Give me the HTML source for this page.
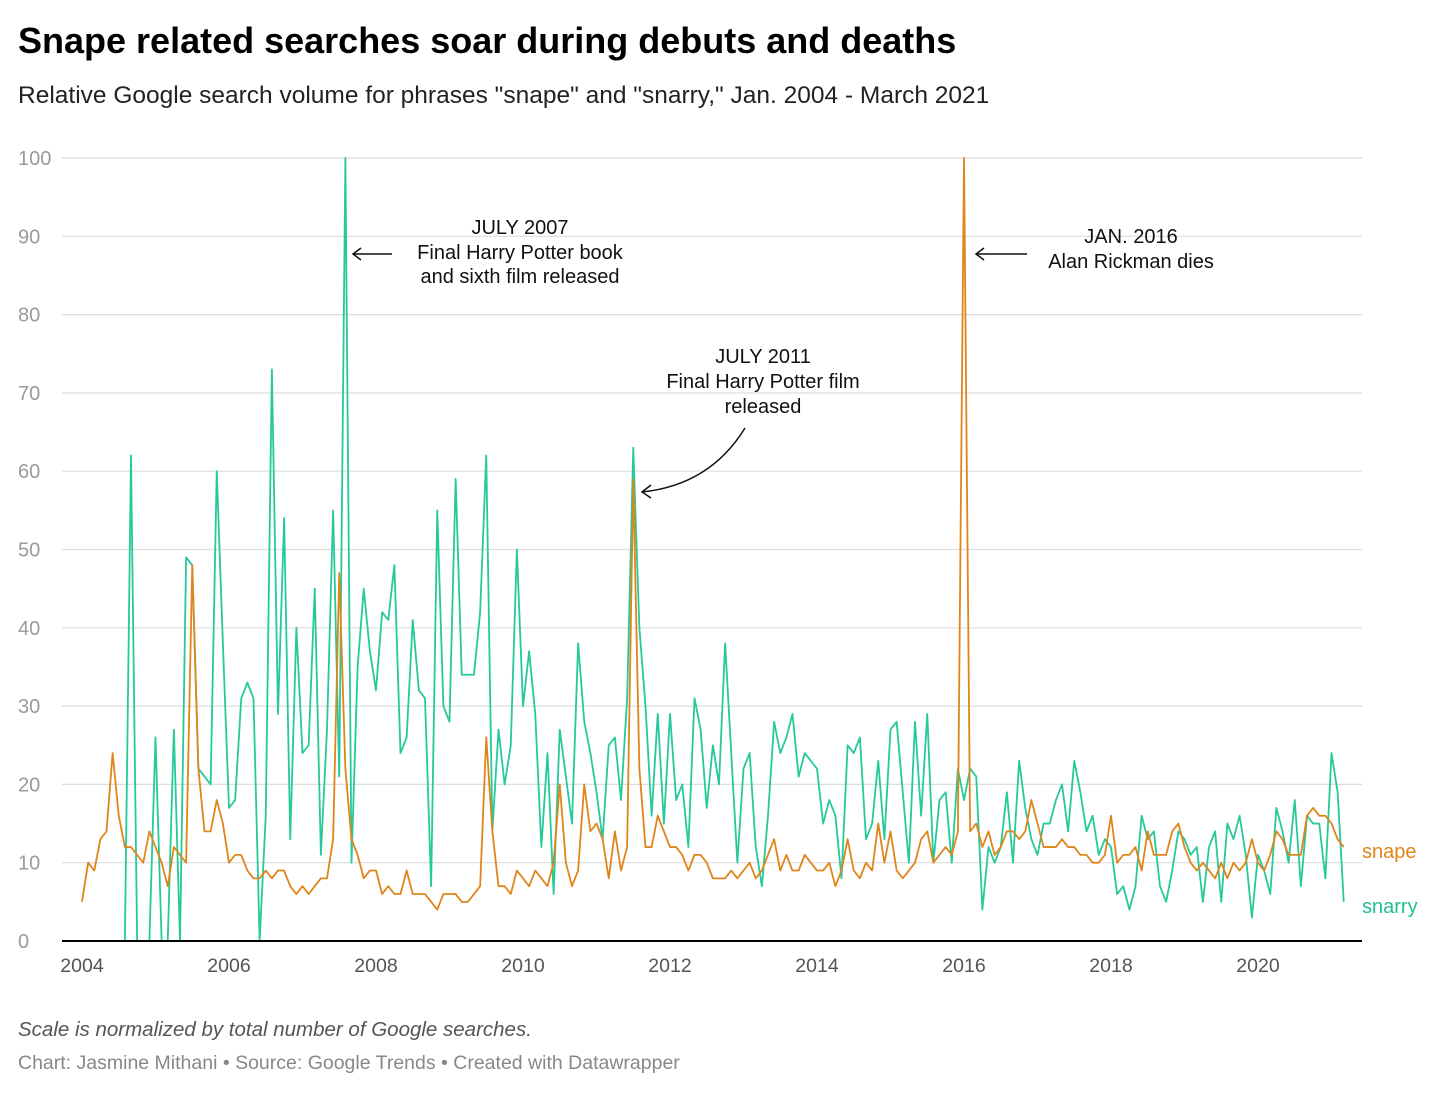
<!DOCTYPE html>
<html><head><meta charset="utf-8">
<style>
body{margin:0;background:#fff;width:1456px;height:1101px;overflow:hidden;font-family:"Liberation Sans",sans-serif;}
svg text{font-family:"Liberation Sans",sans-serif;}
</style></head>
<body>
<svg id="chart" width="1456" height="1101" xmlns="http://www.w3.org/2000/svg">
<text x="18" y="53" font-size="36" font-weight="bold" fill="#000">Snape related searches soar during debuts and deaths</text>
<text x="18" y="103" font-size="24.5" fill="#222">Relative Google search volume for phrases "snape" and "snarry," Jan. 2004 - March 2021</text>
<g id="grid"></g>
<g id="yticks"></g>
<g id="xticks"></g>
<g id="series"></g>
<g font-size="20" fill="#111" text-anchor="middle">
<text x="520" y="234">JULY 2007</text>
<text x="520" y="259">Final Harry Potter book</text>
<text x="520" y="283">and sixth film released</text>
<line x1="392" y1="254" x2="353" y2="254" stroke="#111" stroke-width="1.5"/>
<path d="M361,248 L353,254 L361,260" fill="none" stroke="#111" stroke-width="1.5"/>
</g>
<g font-size="20" fill="#111" text-anchor="middle">
<text x="763" y="363">JULY 2011</text>
<text x="763" y="388">Final Harry Potter film</text>
<text x="763" y="413">released</text>
<path d="M745,428 Q710,485 642,492" fill="none" stroke="#111" stroke-width="1.5"/>
<path d="M651,485 L642,492 L651,498" fill="none" stroke="#111" stroke-width="1.5"/>
</g>
<g font-size="20" fill="#111" text-anchor="middle">
<text x="1131" y="243">JAN. 2016</text>
<text x="1131" y="268">Alan Rickman dies</text>
<line x1="1027" y1="254" x2="976" y2="254" stroke="#111" stroke-width="1.5"/>
<path d="M984,248 L976,254 L984,260" fill="none" stroke="#111" stroke-width="1.5"/>
</g>
<text x="1362" y="858" font-size="20" fill="#e0851a">snape</text>
<text x="1362" y="913" font-size="20" fill="#1fbf92">snarry</text>
<text x="18" y="1036" font-size="20.5" font-style="italic" fill="#555">Scale is normalized by total number of Google searches.</text>
<text x="18" y="1069" font-size="19.5" fill="#888">Chart: Jasmine Mithani • Source: Google Trends • Created with Datawrapper</text>
</svg>
<script>
const yTicks=[0,10,20,30,40,50,60,70,80,90,100];
const xTickYears=[2004,2006,2008,2010,2012,2014,2016,2018,2020];
const snape=[5,10,9,13,14,24,16,12,12,11,10,14,
12,10,7,12,11,10,48,22,14,14,18,15,
10,11,11,9,8,8,9,8,9,9,7,6,
7,6,7,8,8,13,47,22,13,11,8,9,
9,6,7,6,6,9,6,6,6,5,4,6,
6,6,5,5,6,7,26,14,7,7,6,9,
8,7,9,8,7,10,20,10,7,9,20,14,
15,13,8,14,9,12,59,22,12,12,16,14,
12,12,11,9,11,11,10,8,8,8,9,8,
9,10,8,9,11,13,9,11,9,9,11,10,
9,9,10,7,9,13,9,8,10,9,15,10,
14,9,8,9,10,13,14,10,11,12,11,14,
100,14,15,12,14,11,12,14,14,13,14,18,
15,12,12,12,13,12,12,11,11,10,10,11,
16,10,11,11,12,9,14,11,11,11,14,15,
12,10,9,10,9,8,10,8,10,9,10,13,
10,9,11,14,13,11,11,11,16,17,16,16,
15,13,12];
const snarry=[null,null,null,null,null,null,null,0,62,0,0,0,
26,0,0,27,0,49,48,22,21,20,60,38,
17,18,31,33,31,0,16,73,29,54,13,40,
24,25,45,11,27,55,21,100,10,35,45,37,
32,42,41,48,24,26,41,32,31,7,55,30,
28,59,34,34,34,42,62,14,27,20,25,50,
30,37,29,12,24,6,27,21,15,38,28,24,
19,13,25,26,18,31,63,40,30,16,29,15,
29,18,20,12,31,27,17,25,20,38,24,10,
22,24,12,7,16,28,24,26,29,21,24,23,
22,15,18,16,8,25,24,26,13,15,23,13,
27,28,19,10,28,16,29,10,18,19,10,22,
18,22,21,4,12,10,12,19,10,23,17,13,
11,15,15,18,20,14,23,19,14,16,11,13,
12,6,7,4,7,16,13,14,7,5,9,14,
13,11,12,5,12,14,5,15,13,16,11,3,
11,9,6,17,14,10,18,7,16,15,15,8,
24,19,5];
const NS='http://www.w3.org/2000/svg';
const X0=82, PERYEAR=73.5, Y0=941, YSCALE=7.83, GL=62, GR=1362;
function xMonth(i){return X0+i*PERYEAR/12;}
function xYear(y){return X0+(y-2004)*PERYEAR;}
function yVal(v){return Y0-v*YSCALE;}
function mk(tag,attrs,parent){const e=document.createElementNS(NS,tag);for(const k in attrs)e.setAttribute(k,attrs[k]);parent.appendChild(e);return e;}
const grid=document.getElementById('grid'),yt=document.getElementById('yticks'),xt=document.getElementById('xticks'),ser=document.getElementById('series');
yTicks.forEach(v=>{
  if(v>0){const l=mk('line',{x1:GL,x2:GR,y1:yVal(v),y2:yVal(v),stroke:'#dedede','stroke-width':1.2},grid);
  
  }
  const t=mk('text',{x:18,y:yVal(v)+7,'font-size':20,fill:'#9a9a9a'},yt);
  t.textContent=v;
  
  
});
xTickYears.forEach(y=>{
  const t=mk('text',{x:xYear(y),y:972,'font-size':19.5,fill:'#555','text-anchor':'middle'},xt);
  t.textContent=y;
  
  
});
function path(arr){let d='',pen=false;arr.forEach((v,i)=>{if(v===null){pen=false;return;}d+=(pen?'L':'M')+xMonth(i).toFixed(2)+','+yVal(v).toFixed(2);pen=true;});return d;}
const ps=mk('path',{d:path(snarry),fill:'none',stroke:'#25c99c','stroke-width':1.8,'stroke-linejoin':'round'},ser);


const pn=mk('path',{d:path(snape),fill:'none',stroke:'#e0851a','stroke-width':1.8,'stroke-linejoin':'round'},ser);


const ax=mk('line',{x1:GL,x2:GR,y1:Y0,y2:Y0,stroke:'#000','stroke-width':2},ser);


</script>
</body></html>
